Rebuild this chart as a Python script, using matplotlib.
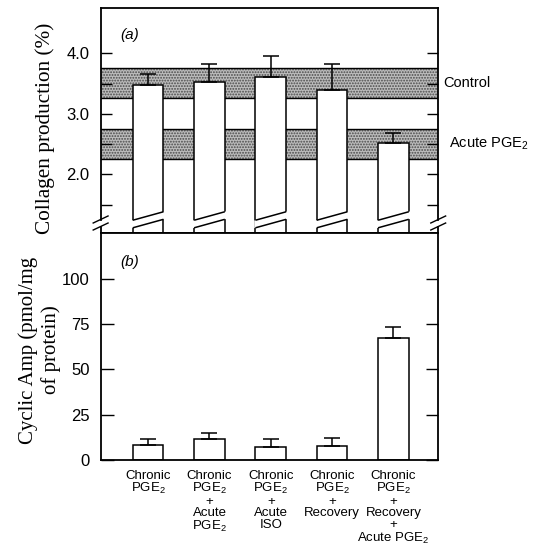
import matplotlib
matplotlib.use("Agg")
import matplotlib.pyplot as plt
import matplotlib.transforms as mtransforms
from matplotlib.patches import Polygon
import numpy as np

plt.rcParams["font.family"] = ["Liberation Sans", "DejaVu Sans"]
plt.rcParams["mathtext.default"] = "regular"
plt.rcParams["hatch.linewidth"] = 0.9

# treatment groups (shared x axis)
groups = [
    "Chronic\nPGE$_2$",
    "Chronic\nPGE$_2$\n+\nAcute\nPGE$_2$",
    "Chronic\nPGE$_2$\n+\nAcute\nISO",
    "Chronic\nPGE$_2$\n+\nRecovery",
    "Chronic\nPGE$_2$\n+\nRecovery\n+\nAcute PGE$_2$",
]

# (a) collagen production (%), mean + upper error
collagen = [3.48, 3.53, 3.60, 3.40, 2.51]
collagen_err = [0.18, 0.30, 0.36, 0.42, 0.17]

# reference ranges drawn as stippled bands
control_band = [3.26, 3.75]
acute_band = [2.25, 2.75]
band_names = ["Control", "Acute PGE$_2$"]

# (b) cyclic AMP (pmol/mg of protein), mean + upper error
camp = [8.3, 11.6, 7.4, 7.7, 67.2]
camp_err = [3.3, 3.5, 4.2, 4.6, 6.0]

collagen_ticks = [2.0, 3.0, 4.0]
collagen_minor = [1.5, 2.5, 3.5]
camp_ticks = [0, 25, 50, 75, 100]

serif = ["Liberation Serif", "DejaVu Serif"]

fig = plt.figure(figsize=(5.41, 5.49), dpi=100)
ax_a = fig.add_axes([0.186, 0.5756, 0.624, 0.4094])
ax_b = fig.add_axes([0.186, 0.162, 0.624, 0.4136])

xpos = np.arange(1, len(groups) + 1)
width = 0.5
lw = 1.1
ybase = 1.03  # bottom of the broken collagen axis

# ---- panel (a) ----
for (lo, hi) in [control_band, acute_band]:
    ax_a.axhspan(lo, hi, facecolor="#bcbcbc", edgecolor="#4a4a4a",
                 hatch="......", lw=0, zorder=1)
    ax_a.axhline(lo, color="black", lw=1.0, zorder=1.5)
    ax_a.axhline(hi, color="black", lw=1.0, zorder=1.5)

ax_a.bar(xpos, np.array(collagen) - ybase, bottom=ybase, width=width,
         color="white", edgecolor="black", lw=lw, zorder=2)
ax_a.errorbar(xpos, collagen, yerr=[np.zeros(len(collagen)), collagen_err],
              fmt="none", ecolor="black", elinewidth=lw, capsize=5.5,
              capthick=lw, zorder=3)

# slanted break through each bar
mid_hi, mid_lo, tilt = 1.311, 1.186, 0.07
slope = 2 * tilt / width
ext = 0.02
for x in xpos:
    xl, xr = x - width / 2 - ext, x + width / 2 + ext
    gap = Polygon([(xl, mid_lo - tilt - slope * ext), (xr, mid_lo + tilt + slope * ext),
                   (xr, mid_hi + tilt + slope * ext), (xl, mid_hi - tilt - slope * ext)],
                  closed=True, facecolor="white", edgecolor="none", zorder=2.5)
    ax_a.add_patch(gap)
    for m in (mid_lo, mid_hi):
        ax_a.plot([x - width / 2, x + width / 2], [m - tilt, m + tilt],
                  color="black", lw=lw, zorder=2.6, solid_capstyle="butt")

# broken side spines with double slashes
spine_hi, spine_lo = 1.253, 1.137
trans = mtransforms.blended_transform_factory(ax_a.transAxes, ax_a.transData)
for side, xs in (("left", 0.0), ("right", 1.0)):
    ax_a.spines[side].set_bounds(spine_hi, 4.744)
    ax_a.plot([xs, xs], [ybase, spine_lo], color="black", lw=1.3,
              transform=trans, clip_on=False)
    for yc in (spine_hi, spine_lo):
        ax_a.plot([xs - 0.022, xs + 0.022], [yc - 0.058, yc + 0.058],
                  color="black", lw=1.0, transform=trans, clip_on=False)

ax_a.set_xlim(0.225, 5.73)
ax_a.set_ylim(ybase, 4.744)
ax_a.set_xticks([])
ax_a.set_yticks(collagen_ticks)
ax_a.set_yticklabels([f"{t:.1f}" for t in collagen_ticks])
ax_a.set_yticks(collagen_minor, minor=True)
ax_a.tick_params(axis="y", which="both", direction="in", length=8, width=1.0,
                 left=True, right=True, pad=8, labelsize=12)
for s in ax_a.spines.values():
    s.set_linewidth(1.3)

ax_a.text(0.057, 0.881, "(a)", style="italic", fontsize=11,
          transform=ax_a.transAxes, va="center")
ax_a.text(1.016, np.mean(control_band), band_names[0], fontsize=10.5,
          va="center", ha="left", transform=trans, clip_on=False)
ax_a.text(1.033, np.mean(acute_band), band_names[1], fontsize=10.5,
          va="center", ha="left", transform=trans, clip_on=False)

# ---- panel (b) ----
ax_b.bar(xpos, camp, width=width, color="white", edgecolor="black", lw=lw,
         zorder=2)
ax_b.errorbar(xpos, camp, yerr=[np.zeros(len(camp)), camp_err], fmt="none",
              ecolor="black", elinewidth=lw, capsize=5.5, capthick=lw, zorder=3)

ax_b.set_xlim(0.225, 5.73)
ax_b.set_ylim(0, 125.3)
ax_b.set_yticks(camp_ticks)
ax_b.tick_params(axis="y", direction="in", length=9, width=1.0, left=True,
                 right=True, pad=8, labelsize=12)
ax_b.set_xticks(xpos)
ax_b.set_xticklabels(groups)
ax_b.tick_params(axis="x", length=0, pad=7, labelsize=9.5)
for lab in ax_b.get_xticklabels():
    lab.set_linespacing(0.95)
for s in ax_b.spines.values():
    s.set_linewidth(1.3)

ax_b.text(0.057, 0.872, "(b)", style="italic", fontsize=11,
          transform=ax_b.transAxes, va="center")

# axis titles
fig.text(0.083, 0.767, "Collagen production (%)", rotation=90, ha="center",
         va="center", fontsize=15.3, family=serif)
fig.text(0.073, 0.3625, "Cyclic Amp (pmol/mg\nof protein)", rotation=90,
         ha="center", va="center", fontsize=15, linespacing=1.25,
         family=serif)

fig.savefig("out.png", dpi=100)
